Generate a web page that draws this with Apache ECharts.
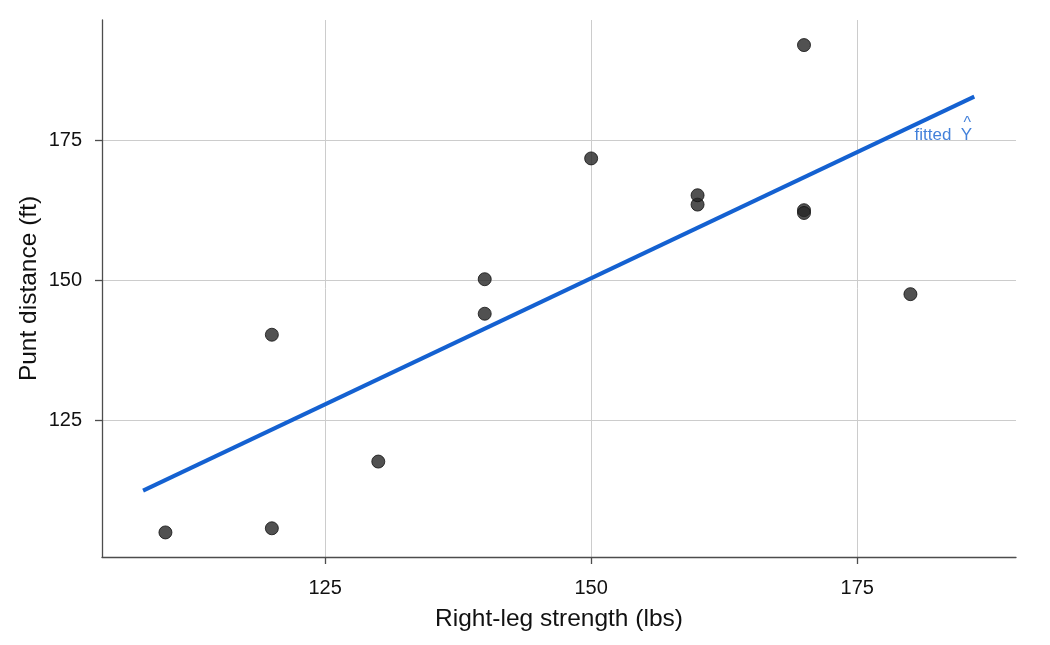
<!DOCTYPE html>
<html>
<head>
<meta charset="utf-8">
<script src="https://cdn.jsdelivr.net/npm/echarts@6/dist/echarts.min.js"></script>
<style>
  html, body { margin: 0; padding: 0; background: #fff; }
  #charts { width: 1050px; height: 645px; }
</style>
</head>
<body>
<div id="charts"></div>
<script>
// punt data
var strength = [170, 140, 180, 160, 170, 150, 170, 110, 120, 130, 120, 140, 160];
var distance = [162.5, 144.0, 147.5, 163.5, 192.0, 171.75, 162.0, 104.93, 105.67, 117.59, 140.25, 150.17, 165.17];
// fitted line ends
var fitX = [107.9, 186.0];
var fitY = [112.4, 182.8];
var xTicks = [125, 150, 175];
var yTicks = [125, 150, 175];

var points = strength.map(function (x, i) { return [x, distance[i]]; });
var fitLine = fitX.map(function (x, i) { return [x, fitY[i]]; });

var blue = '#1461d1';
var txt = '#111111';
var axisCol = '#4d4d4d';

var option = {
  animation: false,
  backgroundColor: '#fff',
  textStyle: { fontFamily: 'Liberation Sans, Arial, sans-serif' },
  grid: { left: 102, right: 34, top: 20, bottom: 88 },
  xAxis: {
    type: 'value',
    min: 104.04,
    max: 189.92,
    name: 'Right-leg strength (lbs)',
    nameLocation: 'middle',
    nameGap: 50,
    nameMoveOverlap: false,
    nameTextStyle: { fontSize: 24.5, color: txt },
    axisLine: { show: true, onZero: false, lineStyle: { color: axisCol, width: 1.3 } },
    axisTick: { show: true, length: 7, customValues: xTicks, lineStyle: { color: axisCol, width: 1.3 } },
    axisLabel: { customValues: xTicks, fontSize: 20, color: txt, margin: 21 },
    splitLine: { show: true, lineStyle: { color: '#cccccc', width: 1 } }
  },
  yAxis: {
    type: 'value',
    min: 100.54,
    max: 196.48,
    name: 'Punt distance (ft)',
    nameLocation: 'middle',
    nameGap: 60,
    nameRotate: 90,
    nameMoveOverlap: false,
    nameTextStyle: { fontSize: 24.5, color: txt },
    axisLine: { show: true, onZero: false, lineStyle: { color: axisCol, width: 1.3 } },
    axisTick: { show: true, length: 7, customValues: yTicks, lineStyle: { color: axisCol, width: 1.3 } },
    axisLabel: { customValues: yTicks, fontSize: 20, color: txt, margin: 20 },
    splitLine: { show: true, lineStyle: { color: '#cccccc', width: 1 } }
  },
  series: [
    {
      type: 'scatter',
      data: points,
      symbolSize: 13,
      itemStyle: { color: '#262626', borderColor: '#111111', borderWidth: 1 },
      z: 3
    },
    {
      type: 'line',
      data: fitLine,
      symbol: 'none',
      lineStyle: { color: blue, width: 4 },
      z: 4
    },
    {
      type: 'scatter',
      symbolSize: 0,
      data: [[185.8, 175.95]],
      label: {
        show: true,
        position: 'inside',
        align: 'right',
        verticalAlign: 'middle',
        formatter: 'fitted  Y',
        fontSize: 17,
        color: blue
      },
      z: 5
    },
    {
      type: 'scatter',
      symbolSize: 0,
      data: [[185.34, 178.0]],
      label: {
        show: true,
        position: 'inside',
        align: 'center',
        verticalAlign: 'middle',
        formatter: '^',
        fontSize: 16,
        color: blue
      },
      z: 5
    }
  ]
};

var myChart = echarts.init(document.getElementById('charts'));
myChart.setOption(option);
</script>
</body>
</html>
